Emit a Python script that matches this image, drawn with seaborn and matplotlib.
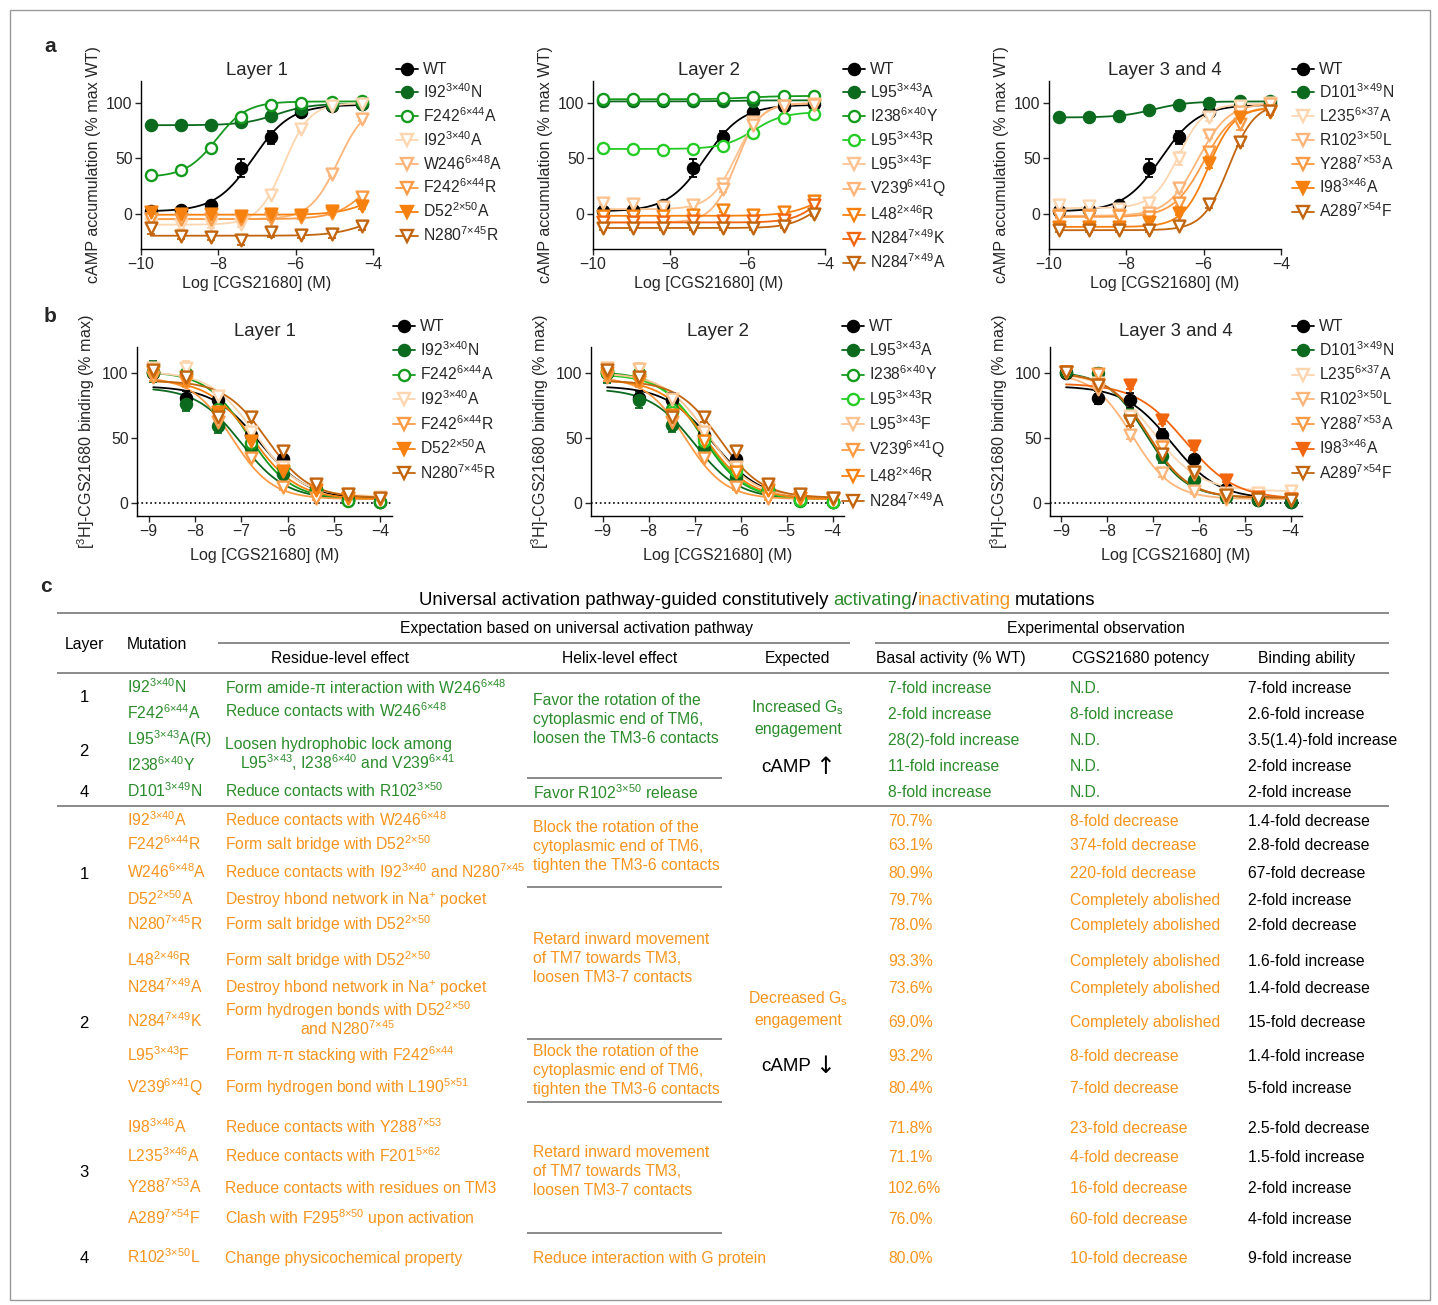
import numpy as np
import matplotlib
matplotlib.use("Agg")
import matplotlib.pyplot as plt
from matplotlib.lines import Line2D
from matplotlib.patches import Rectangle
import seaborn as sns

sns.set_theme(style="ticks")
plt.rcParams["font.family"] = ["Liberation Sans", "DejaVu Sans"]
plt.rcParams["mathtext.fontset"] = "custom"
plt.rcParams["mathtext.rm"] = "Liberation Sans"
plt.rcParams["mathtext.it"] = "Liberation Sans:italic"
plt.rcParams["mathtext.bf"] = "Liberation Sans:bold"
plt.rcParams["mathtext.default"] = "regular"
plt.rcParams["axes.edgecolor"] = "black"
plt.rcParams["axes.linewidth"] = 1.0

W, H = 1438, 1305

# ---------------- data: panel a (cAMP accumulation) ----------------
X_A = [-9.75, -8.97, -8.19, -7.41, -6.63, -5.85, -5.07, -4.29]

WT_A = [2, 3.5, 8, 41, 69, 92, 97, 99]
WT_A_ERR = [1, 1, 2, 8, 6, 2, 1, 1]
WT_A_FIT = (2, 98.5, -7.1, 0.9)   # bottom, top, logEC50, hill

A1_LABELS = ["WT", "I92$^{3×40}$N", "F242$^{6×44}$A", "I92$^{3×40}$A", "W246$^{6×48}$A",
             "F242$^{6×44}$R", "D52$^{2×50}$A", "N280$^{7×45}$R"]
A1_Y = [WT_A,
        [80.5, 80, 80.5, 83, 88, 95, 98, 99],
        [35, 39.5, 59.5, 87.5, 98, 100.5, 101, 101.5],
        [-9, -10, -9, -9, 17, 77, 97, 99],
        [-5, -5, -5, -5, -4, -2, 36, 86],
        [-5, -5, -5, -5, -4, -3, 1, 15],
        [1.5, 0, -0.5, -2, 0, -1, 2, 7],
        [-13, -20, -21, -24, -17, -19, -18, -11]]
A1_ERR = [WT_A_ERR,
          [0, 0, 0, 0, 0, 0, 0, 0],
          [0, 0, 0, 0, 0, 0, 0, 0],
          [3, 4, 4, 3, 2, 2, 1, 1],
          [2, 2, 2, 2, 2, 2, 2, 2],
          [2, 2, 2, 2, 2, 2, 2, 2],
          [3, 2, 3, 3, 2, 2, 2, 3],
          [5, 3, 3, 4, 4, 3, 4, 4]]
A1_FIT = [WT_A_FIT, (80, 99.5, -6.5, 1.0), (33, 101.5, -8.05, 1.1), (-10, 100, -6.3, 1.3),
          (-5, 100, -4.9, 1.2), (-5, 60, -4.0, 1.0), (-1, 25, -4.0, 1.0), (-20, 0, -4.2, 1.0)]

A2_LABELS = ["WT", "L95$^{3×43}$A", "I238$^{6×40}$Y", "L95$^{3×43}$R", "L95$^{3×43}$F",
             "V239$^{6×41}$Q", "L48$^{2×46}$R", "N284$^{7×49}$K", "N284$^{7×49}$A"]
A2_Y = [WT_A,
        [101.5, 101.5, 101.5, 101.8, 102, 102.2, 102.5, 102.5],
        [103.5, 103.5, 103.5, 104, 104.5, 105.5, 106, 106.5],
        [59, 58.5, 57.5, 58.5, 61, 72.5, 86.5, 90.5],
        [10, 9, 6, 8, 27, 83, 97, 99],
        [-8, -8, -8, -5, 22, 80, 97, 98],
        [-2, -2, -2, -1, 3.5, -1, 1.5, 11],
        [-8, -8, -8, -7, -7, -7, -6, 8],
        [-13, -13, -13, -13, -13, -13, -11, 0]]
A2_ERR = [WT_A_ERR,
          [0, 0, 0, 0, 0, 0, 0, 0],
          [0, 0, 0, 0, 0, 0, 0, 0],
          [4, 4, 4, 4, 3, 3, 2, 2],
          [2, 2, 2, 2, 2, 2, 2, 2],
          [2, 2, 2, 2, 2, 2, 2, 2],
          [2, 2, 2, 2, 2, 2, 2, 2],
          [2, 2, 2, 2, 2, 2, 2, 2],
          [2, 2, 2, 2, 2, 2, 2, 2]]
A2_FIT = [WT_A_FIT, (101.5, 102.5, -6.5, 1.0), (103.5, 106.5, -6.0, 1.0), (58.5, 92, -5.85, 1.1),
          (4, 100, -6.3, 1.3), (-8, 100, -6.3, 1.4), (-2, 30, -4.0, 1.0), (-8, 40, -4.0, 1.2),
          (-13, 20, -4.2, 1.2)]

A3_LABELS = ["WT", "D101$^{3×49}$N", "L235$^{6×37}$A", "R102$^{3×50}$L", "Y288$^{7×53}$A",
             "I98$^{3×46}$A", "A289$^{7×54}$F"]
A3_Y = [WT_A,
        [87.5, 87.5, 88.5, 93.5, 98.5, 100.5, 101.5, 101.5],
        [8, 7, 4, 10, 50, 87, 97, 100],
        [-1, -1, -1, 1, 23, 71, 92, 99],
        [-2, -2, -2, -3, 10, 56, 81, 93],
        [-12, -12, -12, -8, 1, 46, 87, 92],
        [-15, -15, -15, -15, -11, 9, 65, 93]]
A3_ERR = [WT_A_ERR,
          [0, 0, 0, 0, 0, 0, 0, 0],
          [2, 2, 2, 2, 6, 3, 2, 2],
          [2, 2, 2, 2, 3, 3, 3, 2],
          [2, 2, 2, 2, 3, 4, 5, 3],
          [2, 2, 2, 2, 2, 5, 4, 3],
          [2, 2, 2, 2, 2, 4, 4, 4]]
A3_FIT = [WT_A_FIT, (87, 101.5, -7.3, 1.0), (5, 99.5, -6.65, 1.3), (-2, 100, -6.15, 1.1),
          (-3, 97, -6.0, 1.1), (-12, 96, -5.88, 1.3), (-15, 100, -5.35, 1.3)]

# ---------------- data: panel b (binding) ----------------
X_B = [-8.9, -8.2, -7.5, -6.8, -6.1, -5.4, -4.7, -4.0]

WT_B = [100, 81, 79, 52, 33.5, 10.5, 2, 0.5]
WT_B_ERR = [3, 5, 6, 5, 3, 2, 1, 1]
WT_B_FIT = (3, 90, -6.6, -0.85)

B1_LABELS = ["WT", "I92$^{3×40}$N", "F242$^{6×44}$A", "I92$^{3×40}$A", "F242$^{6×44}$R",
             "D52$^{2×50}$A", "N280$^{7×45}$R"]
B1_Y = [WT_B,
        [101, 76, 59, 42, 22, 10, 2, 1],
        [101, 100, 72, 46, 28, 10, 1.5, 1],
        [104, 104, 82, 55, 28, 12, 7, 5],
        [97, 93, 62, 35, 12, 3.5, 4, 3],
        [101, 95, 70, 48, 25, 10, 4, 3],
        [102, 97, 66, 66, 40, 15, 7, 4]]
B1_ERR = [WT_B_ERR,
          [8, 5, 5, 4, 3, 2, 1, 1],
          [4, 5, 4, 4, 3, 2, 1, 1],
          [4, 5, 4, 3, 3, 2, 1, 1],
          [3, 4, 4, 3, 2, 1, 1, 1],
          [4, 5, 5, 4, 3, 2, 1, 1],
          [4, 5, 5, 4, 4, 3, 2, 1]]
B1_FIT = [WT_B_FIT, (3, 89, -7.0, -0.9), (3, 101, -6.85, -0.95), (5, 101, -6.7, -0.9),
          (3, 97, -7.2, -1.0), (3, 95, -6.75, -0.9), (4, 94, -6.45, -0.95)]

B2_LABELS = ["WT", "L95$^{3×43}$A", "I238$^{6×40}$Y", "L95$^{3×43}$R", "L95$^{3×43}$F",
             "V239$^{6×41}$Q", "L48$^{2×46}$R", "N284$^{7×49}$A"]
B2_Y = [WT_B,
        [100, 79, 60, 42, 20, 10, 2, 1],
        [102, 100, 72, 50, 28, 10, 1.5, 1],
        [101, 98, 70, 48, 25, 11, 2, 1],
        [104, 103, 80, 55, 28, 12, 6, 4],
        [97, 93, 62, 35, 12, 3.5, 4, 3],
        [100, 95, 68, 48, 24, 10, 4, 3],
        [102, 97, 66, 66, 40, 15, 7, 4]]
B2_ERR = [WT_B_ERR,
          [8, 6, 5, 4, 3, 2, 1, 1],
          [4, 5, 4, 4, 3, 2, 1, 1],
          [4, 5, 4, 4, 3, 2, 1, 1],
          [4, 5, 4, 3, 3, 2, 1, 1],
          [3, 4, 4, 3, 2, 1, 1, 1],
          [4, 5, 5, 4, 3, 2, 1, 1],
          [4, 5, 5, 4, 4, 3, 2, 1]]
B2_FIT = [WT_B_FIT, (3, 88, -7.0, -0.9), (3, 101, -6.85, -0.95), (3, 99, -6.8, -0.95),
          (4, 100, -6.7, -0.9), (3, 97, -7.2, -1.0), (3, 95, -6.75, -0.9), (4, 94, -6.45, -0.95)]

B3_LABELS = ["WT", "D101$^{3×49}$N", "L235$^{6×37}$A", "R102$^{3×50}$L", "Y288$^{7×53}$A",
             "I98$^{3×46}$A", "A289$^{7×54}$F"]
B3_Y = [WT_B,
        [101, 100, 68, 36, 18, 5, 2, 1],
        [101, 92, 67, 44, 24, 8, 8, 9],
        [101, 88, 52, 23, 9, 3, 3, 2],
        [101, 99, 63, 43, 22, 5, 3, 3],
        [101, 91, 91, 64, 44, 18, 5, 3],
        [101, 91, 63, 38, 24, 6, 3, 2]]
B3_ERR = [WT_B_ERR,
          [3, 4, 4, 5, 3, 1, 1, 1],
          [3, 4, 4, 4, 3, 2, 1, 1],
          [3, 4, 3, 3, 2, 1, 1, 1],
          [3, 4, 4, 4, 3, 1, 1, 1],
          [3, 4, 3, 3, 3, 2, 1, 1],
          [3, 4, 4, 4, 3, 1, 1, 1]]
B3_FIT = [WT_B_FIT, (4, 101, -7.15, -1.0), (9, 100, -7.0, -0.85), (3, 100, -7.45, -1.0),
          (4, 100, -7.1, -1.0), (3, 92, -6.3, -0.8), (4, 100, -7.1, -1.0)]

# ---------------- data: panel c (table) ----------------
TITLE_PARTS = ["Universal activation pathway-guided constitutively", "activating", "/",
               "inactivating", "mutations"]

ACT_MUT = ["I92$^{3×40}$N", "F242$^{6×44}$A", "L95$^{3×43}$A(R)", "I238$^{6×40}$Y", "D101$^{3×49}$N"]
ACT_RES = ["Form amide-$\\pi$ interaction with W246$^{6×48}$", "Reduce contacts with W246$^{6×48}$",
           "Loosen hydrophobic lock among", "L95$^{3×43}$, I238$^{6×40}$ and V239$^{6×41}$",
           "Reduce contacts with R102$^{3×50}$"]
ACT_HELIX = ["Favor the rotation of the", "cytoplasmic end of TM6,", "loosen the TM3-6 contacts",
             "Favor R102$^{3×50}$ release"]
ACT_BASAL = ["7-fold increase", "2-fold increase", "28(2)-fold increase", "11-fold increase", "8-fold increase"]
ACT_POT = ["N.D.", "8-fold increase", "N.D.", "N.D.", "N.D."]
ACT_BIND = ["7-fold increase", "2.6-fold increase", "3.5(1.4)-fold increase", "2-fold increase",
            "2-fold increase"]
ACT_LAYER = ["1", "2", "4"]

INACT_MUT = ["I92$^{3×40}$A", "F242$^{6×44}$R", "W246$^{6×48}$A", "D52$^{2×50}$A", "N280$^{7×45}$R",
             "L48$^{2×46}$R", "N284$^{7×49}$A", "N284$^{7×49}$K", "L95$^{3×43}$F", "V239$^{6×41}$Q",
             "I98$^{3×46}$A", "L235$^{3×46}$A", "Y288$^{7×53}$A", "A289$^{7×54}$F", "R102$^{3×50}$L"]
INACT_RES = ["Reduce contacts with W246$^{6×48}$", "Form salt bridge with D52$^{2×50}$",
             "Reduce contacts with I92$^{3×40}$ and N280$^{7×45}$", "Destroy hbond network in Na$^{+}$ pocket",
             "Form salt bridge with D52$^{2×50}$", "Form salt bridge with D52$^{2×50}$",
             "Destroy hbond network in Na$^{+}$ pocket", "Form hydrogen bonds with D52$^{2×50}$",
             "Form $\\pi$-$\\pi$ stacking with F242$^{6×44}$", "Form hydrogen bond with L190$^{5×51}$",
             "Reduce contacts with Y288$^{7×53}$", "Reduce contacts with F201$^{5×62}$",
             "Reduce contacts with residues on TM3", "Clash with F295$^{8×50}$ upon activation",
             "Change physicochemical property"]
INACT_RES_EXTRA = "and N280$^{7×45}$"
INACT_BASAL = ["70.7%", "63.1%", "80.9%", "79.7%", "78.0%", "93.3%", "73.6%", "69.0%", "93.2%", "80.4%",
               "71.8%", "71.1%", "102.6%", "76.0%", "80.0%"]
INACT_POT = ["8-fold decrease", "374-fold decrease", "220-fold decrease", "Completely abolished",
             "Completely abolished", "Completely abolished", "Completely abolished", "Completely abolished",
             "8-fold decrease", "7-fold decrease", "23-fold decrease", "4-fold decrease",
             "16-fold decrease", "60-fold decrease", "10-fold decrease"]
INACT_BIND = ["1.4-fold decrease", "2.8-fold decrease", "67-fold decrease", "2-fold increase",
              "2-fold decrease", "1.6-fold increase", "1.4-fold decrease", "15-fold decrease",
              "1.4-fold increase", "5-fold increase", "2.5-fold decrease", "1.5-fold increase",
              "2-fold increase", "4-fold increase", "9-fold increase"]
INACT_LAYER = ["1", "2", "3", "4"]
BLOCK_TXT = ["Block the rotation of the", "cytoplasmic end of TM6,", "tighten the TM3-6 contacts"]
RETARD_TXT = ["Retard inward movement", "of TM7 towards TM3,", "loosen TM3-7 contacts"]
GPROT_TXT = "Reduce interaction with G protein"

# ---------------- styles / layout ----------------
DKGREEN, GREEN, LTGREEN = "#0b6a1e", "#149a1c", "#25cc25"
PEACH, LTOR, OR, DKOR, REDOR, BROWN = "#fdd6b0", "#fdb57a", "#fb9b45", "#f7810f", "#f2650f", "#c2650e"
TGREEN, TORANGE = "#2b8c2b", "#f7941d"
RULE = "#8a8a8a"

A1_STY = [("black", "o", 1), (DKGREEN, "o", 1), (GREEN, "o", 0), (PEACH, "v", 0), (LTOR, "v", 0),
          (OR, "v", 0), (DKOR, "v", 1), (BROWN, "v", 0)]
A2_STY = [("black", "o", 1), (DKGREEN, "o", 1), (GREEN, "o", 0), (LTGREEN, "o", 0), ("#fdc391", "v", 0),
          (LTOR, "v", 0), (DKOR, "v", 0), (REDOR, "v", 0), (BROWN, "v", 0)]
A3_STY = [("black", "o", 1), (DKGREEN, "o", 1), (PEACH, "v", 0), (LTOR, "v", 0), (OR, "v", 0),
          (DKOR, "v", 1), (BROWN, "v", 0)]
B1_STY = [("black", "o", 1), (DKGREEN, "o", 1), (GREEN, "o", 0), (PEACH, "v", 0), (OR, "v", 0),
          (DKOR, "v", 1), (BROWN, "v", 0)]
B2_STY = [("black", "o", 1), (DKGREEN, "o", 1), (GREEN, "o", 0), (LTGREEN, "o", 0), ("#fdc391", "v", 0),
          (OR, "v", 0), (DKOR, "v", 0), (BROWN, "v", 0)]
B3_STY = [("black", "o", 1), (DKGREEN, "o", 1), (PEACH, "v", 0), (LTOR, "v", 0), (OR, "v", 0),
          (REDOR, "v", 1), (BROWN, "v", 0)]

fig = plt.figure(figsize=(W / 100, H / 100), dpi=100)


def px_axes(l, t, r, b):
    return fig.add_axes([l / W, 1 - b / H, (r - l) / W, (b - t) / H])


def curve(x, p):
    bot, top, ec, h = p
    return bot + (top - bot) / (1 + 10 ** ((ec - x) * h))


def draw(ax, xs, labels, ys, errs, fits, styles, ylab, title, leg_x, leg_top, tpad, lspace, xpad):
    xs = np.asarray(xs)
    xg = np.linspace(xs.min(), xs.max(), 200)
    handles = []
    for i, (lab, y, e, p, (c, m, filled)) in enumerate(zip(labels, ys, errs, fits, styles)):
        sns.lineplot(x=xg, y=curve(xg, p), color=c, lw=1.3, ax=ax, sort=False,
                     estimator=None, zorder=2 + i * 0.01)
        y = np.asarray(y, float)
        e = np.asarray(e, float)
        k = e > 0
        if k.any():
            ax.errorbar(xs[k], y[k], yerr=e[k], fmt="none", ecolor=c, elinewidth=1.3,
                        capsize=3.2, capthick=1.3, zorder=3 + i * 0.01)
        fc = c if filled else "white"
        sns.scatterplot(x=xs, y=y, marker=m, s=64 if m == "o" else 72, color=fc,
                        edgecolor=c, linewidth=1.7, ax=ax, zorder=4 + i * 0.01)
        handles.append(Line2D([], [], color=c, lw=1.3, marker=m, markersize=8,
                              markerfacecolor=fc, markeredgecolor=c, markeredgewidth=1.7))
    ax.legend(handles, labels, loc="upper left", bbox_to_anchor=(leg_x / W, 1 - leg_top / H),
              bbox_transform=fig.transFigure, frameon=False, fontsize=11.3, handlelength=1.4,
              handletextpad=0.3, labelspacing=lspace, borderpad=0, borderaxespad=0)
    sns.despine(ax=ax)
    ax.tick_params(direction="out", length=4, width=1, labelsize=11.3, pad=2)
    ax.set_yticks([0, 50, 100])
    ax.set_ylabel(ylab, fontsize=11.6, labelpad=4)
    ax.set_xlabel("Log [CGS21680] (M)", fontsize=11.6, labelpad=xpad)
    ax.set_title(title, fontsize=13.4, pad=tpad)


A_POS = [(141, 81, 373, 249), (593, 81, 825, 249), (1049, 81, 1281, 249)]
B_POS = [(137, 347, 392, 516), (591, 347, 844, 516), (1050, 347, 1302, 516)]
A_LEG = [396, 843, 1292]
B_LEG = [393, 842, 1292]
TITLES = ["Layer 1", "Layer 2", "Layer 3 and 4"]

a_sets = [(A1_LABELS, A1_Y, A1_ERR, A1_FIT, A1_STY), (A2_LABELS, A2_Y, A2_ERR, A2_FIT, A2_STY),
          (A3_LABELS, A3_Y, A3_ERR, A3_FIT, A3_STY)]
b_sets = [(B1_LABELS, B1_Y, B1_ERR, B1_FIT, B1_STY), (B2_LABELS, B2_Y, B2_ERR, B2_FIT, B2_STY),
          (B3_LABELS, B3_Y, B3_ERR, B3_FIT, B3_STY)]

for pos, lx, title, (lab, ys, er, ft, st) in zip(A_POS, A_LEG, TITLES, a_sets):
    ax = px_axes(*pos)
    draw(ax, X_A, lab, ys, er, ft, st, "cAMP accumulation (% max WT)", title, lx, 62, 4, 0.33, 2.5)
    ax.set_xlim(-10, -4)
    ax.set_ylim(-32, 120)
    ax.set_xticks([-10, -8, -6, -4])

for pos, lx, title, (lab, ys, er, ft, st) in zip(B_POS, B_LEG, TITLES, b_sets):
    ax = px_axes(*pos)
    ax.axhline(0, color="black", ls=":", lw=1.2, zorder=1)
    draw(ax, X_B, lab, ys, er, ft, st, "[$^{3}$H]-CGS21680 binding (% max)", title, lx, 319, 8, 0.38, 6.5)
    ax.set_xlim(-9.25, -3.75)
    ax.set_ylim(-10, 120)
    ax.set_xticks([-9, -8, -7, -6, -5, -4])

# ---------------- table (pixel coordinate overlay) ----------------
ax_t = fig.add_axes([0, 0, 1, 1], zorder=-1)
ax_t.set_xlim(0, W)
ax_t.set_ylim(H, 0)
ax_t.axis("off")
ax_t.add_patch(Rectangle((10, 10), 1420, 1290, fill=False, ec="#999999", lw=1))

for s, (x, y) in zip(["a", "b", "c"], [(50, 47), (50, 316), (46, 587)]):
    ax_t.text(x, y, s, fontsize=15, fontweight="bold", ha="center", va="center")

FS = 11.3
renderer = fig.canvas.get_renderer()


def put(x, y, s, color="black", ha="left", size=FS, family=None):
    kw = {} if family is None else {"family": family}
    return ax_t.text(x, y + 5, s, color=color, ha=ha, va="baseline", fontsize=size, **kw)


def rule(x0, x1, y):
    ax_t.plot([x0, x1], [y, y], color=RULE, lw=1.4, solid_capstyle="butt")


def camp(xc, y, arrow):
    t = put(0, y, "cAMP", "black", size=13.5)
    a = put(0, y + 2, arrow, "black", size=17, family=["DejaVu Sans"])
    wt = t.get_window_extent(renderer).width
    wa = a.get_window_extent(renderer).width
    x0 = xc - (wt + 4 + wa) / 2
    t.set_x(x0)
    a.set_x(x0 + wt + 4)


# title with coloured words
cols = ["black", TGREEN, "black", TORANGE, "black"]
gaps = [4.8, 0, 0, 4.8, 0]
objs = [put(0, 600, s, c, size=13.4) for s, c in zip(TITLE_PARTS, cols)]
widths = [o.get_window_extent(renderer).width for o in objs]
total = sum(widths) + sum(gaps[:-1])
x = 757.5 - total / 2
for o, w, g in zip(objs, widths, gaps):
    o.set_x(x)
    x += w + g

# header
rule(57, 1389, 613)
rule(218, 850, 643)
rule(875, 1389, 643)
rule(57, 1389, 673)
rule(57, 1389, 806)
put(84, 644, "Layer", ha="center")
put(127, 644, "Mutation")
put(400, 628, "Expectation based on universal activation pathway")
put(1096, 628, "Experimental observation", ha="center")
put(340, 658, "Residue-level effect", ha="center")
put(620, 658, "Helix-level effect", ha="center")
put(798, 658, "Expected", ha="center")
put(876, 658, "Basal activity (% WT)")
put(1141, 658, "CGS21680 potency", ha="center")
put(1307, 658, "Binding ability", ha="center")

# activating block
ACT_Y = [688, 714, 740, 766, 792]
for y, lay in zip([697, 751, 792], ACT_LAYER):
    put(84, y, lay, ha="center", size=12)
for y, m, b, p, bd in zip(ACT_Y, ACT_MUT, ACT_BASAL, ACT_POT, ACT_BIND):
    put(127, y, m, TGREEN)
    put(888, y, b, TGREEN)
    put(1070, y, p, TGREEN)
    put(1248, y, bd, "black")
for (x, y), s in zip([(225, 689), (225, 712), (225, 744), (240, 764), (225, 792)], ACT_RES):
    put(x, y, s, TGREEN)
for y, s in zip([700, 719, 738, 794], ACT_HELIX):
    put(533, y, s, TGREEN)
rule(527, 722, 778)
put(798, 707, "Increased G$_{s}$", TGREEN, ha="center")
put(798, 729, "engagement", TGREEN, ha="center")
camp(798, 767, "↑")

# inactivating block
INACT_Y = [821, 845, 873, 900, 925, 961, 988, 1022, 1056, 1088, 1128, 1157, 1188, 1219, 1258]
RES_Y = [821, 845, 873, 900, 925, 961, 988, 1011, 1056, 1088, 1128, 1157, 1188, 1219, 1258]
for y, lay in zip([874, 1023, 1172, 1258], INACT_LAYER):
    put(84, y, lay, ha="center", size=12)
for y, ry, m, r, b, p, bd in zip(INACT_Y, RES_Y, INACT_MUT, INACT_RES, INACT_BASAL, INACT_POT, INACT_BIND):
    put(127, y, m, TORANGE)
    put(225, ry, r, TORANGE)
    put(888, y, b, TORANGE)
    put(1070, y, p, TORANGE)
    put(1248, y, bd, "black")
put(300, 1030, INACT_RES_EXTRA, TORANGE)
for y0, block in [(827, BLOCK_TXT), (939, RETARD_TXT), (1051, BLOCK_TXT), (1152, RETARD_TXT)]:
    for k, s in enumerate(block):
        put(533, y0 + 19 * k, s, TORANGE)
put(533, 1258, GPROT_TXT, TORANGE)
for y in [887, 1039, 1102, 1233]:
    rule(527, 722, y)
put(798, 998, "Decreased G$_{s}$", TORANGE, ha="center")
put(798, 1020, "engagement", TORANGE, ha="center")
camp(798, 1066, "↓")

fig.savefig("out.png", dpi=100)
